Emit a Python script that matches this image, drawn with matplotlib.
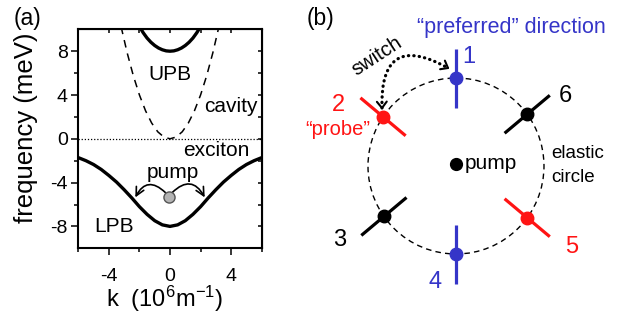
import matplotlib.pyplot as plt
import numpy as np
from matplotlib.patches import Circle

plt.rcParams['font.family'] = ['Liberation Sans', 'DejaVu Sans']
plt.rcParams['mathtext.default'] = 'regular'
plt.rcParams['axes.unicode_minus'] = False

# ---- (a) dispersion: k in 1e6 m^-1, energy in meV
k_lpb = [-6, -5.5, -5, -4.5, -4, -3.5, -3, -2.5, -2, -1.5, -1, -0.5, 0,
         0.5, 1, 1.5, 2, 2.5, 3, 3.5, 4, 4.5, 5, 5.5, 6]
e_lpb = [-1.72, -2.0, -2.35, -2.8, -3.35, -3.95, -4.65, -5.4, -6.2, -6.9, -7.48, -7.86, -8.0,
         -7.86, -7.48, -6.9, -6.2, -5.4, -4.65, -3.95, -3.35, -2.8, -2.35, -2.0, -1.72]
k_upb = [-2.0, -1.75, -1.5, -1.25, -1.0, -0.75, -0.5, -0.25, 0,
         0.25, 0.5, 0.75, 1.0, 1.25, 1.5, 1.75, 2.0]
e_upb = [10.25, 9.68, 9.2, 8.82, 8.52, 8.29, 8.13, 8.03, 8.0,
         8.03, 8.13, 8.29, 8.52, 8.82, 9.2, 9.68, 10.25]
k_cav = [-3.2, -2.8, -2.4, -2.0, -1.6, -1.2, -0.8, -0.4, 0,
         0.4, 0.8, 1.2, 1.6, 2.0, 2.4, 2.8, 3.2]
e_cav = [10.24, 7.84, 5.76, 4.0, 2.56, 1.44, 0.64, 0.16, 0,
         0.16, 0.64, 1.44, 2.56, 4.0, 5.76, 7.84, 10.24]
e_exciton = 0
pump_k, pump_e = -0.05, -5.3

# ---- (b) signal directions on the elastic circle
pt_labels = ['1', '2', '3', '4', '5', '6']
pt_angles = [90, 146, 215, 270, 324, 36]     # place on circle (deg)
bar_angles = [90, 140, 220, 270, 320, 40]    # orientation of each stroke (deg)
blue, red = '#3535c8', '#ff1414'
pt_colors = [blue, red, 'black', blue, red, 'black']

fig = plt.figure(figsize=(6.28, 3.22), dpi=100)

# ---------------- panel (a)
ax = fig.add_axes([78.3 / 628, 1 - 248.3 / 322, 183.4 / 628, 219 / 322])
ax.plot(k_lpb, e_lpb, color='black', lw=2.4, solid_capstyle='butt')
ax.plot(k_upb, e_upb, color='black', lw=2.4, solid_capstyle='butt')
ax.plot(k_cav, e_cav, color='black', lw=1.1, ls=(0, (5, 4)))
ax.axhline(e_exciton, color='black', lw=0.9, ls=(0, (1, 1.5)))
ax.plot(pump_k, pump_e, 'o', ms=8, mfc='#b4b4b4', mec='#555555', mew=1, zorder=5)

ax.annotate('', xy=(-2.27, -5.35), xytext=(-0.31, -4.9),
            arrowprops=dict(arrowstyle='->', lw=1.2, color='black', shrinkA=0, shrinkB=0,
                            connectionstyle='arc3,rad=0.66', mutation_scale=15))
ax.annotate('', xy=(2.27, -5.35), xytext=(0.15, -4.9),
            arrowprops=dict(arrowstyle='->', lw=1.2, color='black', shrinkA=0, shrinkB=0,
                            connectionstyle='arc3,rad=-0.65', mutation_scale=15))

ax.text(0, 5.39, 'UPB', fontsize=15, ha='center', va='baseline')
ax.text(4.0, 2.46, 'cavity', fontsize=15, ha='center', va='baseline')
ax.text(3.05, -1.6, 'exciton', fontsize=15, ha='center', va='baseline')
ax.text(0.2, -3.6, 'pump', fontsize=15, ha='center', va='baseline')
ax.text(-3.68, -8.51, 'LPB', fontsize=15, ha='center', va='baseline')

ax.set_xlim(-6, 6)
ax.set_ylim(-10, 10)
ax.set_xticks([-4, 0, 4])
ax.set_xticks([-6, -2, 2, 6], minor=True)
ax.set_yticks([-8, -4, 0, 4, 8])
ax.set_yticks([-6, -2, 2, 6], minor=True)
for s in ax.spines.values():
    s.set_linewidth(1.5)
ax.tick_params(which='both', direction='out', width=1.1, labelsize=14)
ax.tick_params(which='major', length=4.8)
ax.tick_params(which='minor', length=3)
ax.tick_params(axis='x', pad=9.5)
ax.tick_params(axis='y', pad=2.7)

top = ax.secondary_xaxis('top')
top.set_xticks([-6, -4, -2, 0, 2, 4, 6])
top.tick_params(direction='in', length=3, width=1.1, labeltop=False)
right = ax.secondary_yaxis('right')
right.set_yticks([-8, -6, -4, -2, 0, 2, 4, 6, 8])
right.tick_params(direction='in', length=3, width=1.1, labelright=False)

fig.text(26 / 628, 1 - 127.5 / 322, 'frequency (meV)', rotation=90,
         fontsize=18.5, ha='center', va='center')
fig.text(165 / 628, 1 - 306.7 / 322, 'k  (10$^6$m$^{-1}$)', fontsize=17,
         ha='center', va='baseline')
fig.text(28 / 628, 1 - 25 / 322, '(a)', fontsize=16.5, ha='center', va='baseline')
fig.text(320 / 628, 1 - 25 / 322, '(b)', fontsize=16.5, ha='center', va='baseline')

# ---------------- panel (b), drawn in pixel coordinates (y downwards)
bx = fig.add_axes([0, 0, 1, 1])
bx.set_xlim(0, 628)
bx.set_ylim(322, 0)
bx.axis('off')
bx.patch.set_alpha(0)

cx, cy, R, half = 456, 166, 88, 29.5
bx.add_patch(Circle((cx, cy), R, fill=False, ec='black', lw=1.0, ls=(0, (4, 3))))
bx.plot(cx, cy - 2, 'o', color='black', ms=8.5)
bx.text(465, 169.3, 'pump', fontsize=15, ha='left', va='baseline')

lab_xy = [(469, 63), (338, 111), (340, 246), (435, 288), (572, 253), (565, 102)]
for lab, a, b, col, (lx, ly) in zip(pt_labels, pt_angles, bar_angles, pt_colors, lab_xy):
    px = cx + R * np.cos(np.radians(a))
    py = cy - R * np.sin(np.radians(a))
    dx, dy = half * np.cos(np.radians(b)), -half * np.sin(np.radians(b))
    bx.plot([px - dx, px + dx], [py - dy, py + dy], color=col, lw=2.3, solid_capstyle='butt')
    bx.plot(px, py, 'o', color=col, ms=9, zorder=5)
    bx.text(lx, ly, lab, color=col, fontsize=17, ha='center', va='baseline')

bx.text(511, 33.3, '\u201cpreferred\u201d direction', color=blue, fontsize=15.5,
        ha='center', va='baseline')
bx.text(338, 135, '\u201cprobe\u201d', color=red, fontsize=14.5, ha='center', va='baseline')
bx.text(551, 158.3, 'elastic', fontsize=13.5, ha='left', va='baseline')
bx.text(551, 181.7, 'circle', fontsize=13.5, ha='left', va='baseline')
bx.text(377, 56, 'switch', fontsize=14.5, rotation=33, ha='center', va='center',
        rotation_mode='anchor')

# dotted "switch" arc between 2 and 1, with solid open heads at both ends
A = np.array([382.0, 108.0])
B = np.array([448.0, 68.0])
rad = -0.88
bx.annotate('', xy=B, xytext=A,
            arrowprops=dict(arrowstyle='-', lw=2.3, color='black', ls=(0, (0.1, 1.6)),
                            capstyle='round', shrinkA=0, shrinkB=0,
                            connectionstyle='arc3,rad=%g' % rad))
# control point of the arc in these (y-down) coordinates
mid = (A + B) / 2
d = B - A
C = np.array([mid[0] - rad * d[1], mid[1] + rad * d[0]])
head_len, head_ang = 8.0, np.radians(38)
for tip in (A, B):
    u = (tip - C) / np.hypot(*(tip - C))
    for s in (1, -1):
        ca, sa = np.cos(s * head_ang), np.sin(s * head_ang)
        w = np.array([u[0] * ca - u[1] * sa, u[0] * sa + u[1] * ca])
        end = tip - head_len * w
        bx.plot([tip[0], end[0]], [tip[1], end[1]], color='black', lw=1.5,
                solid_capstyle='round')

fig.savefig('out.png', dpi=100)
